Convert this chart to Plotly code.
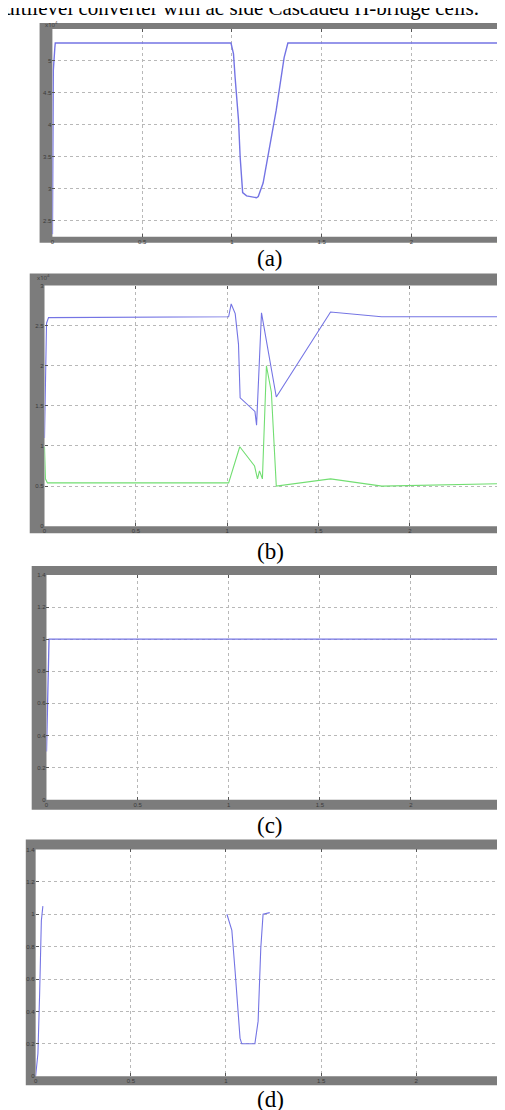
import plotly.graph_objects as go

W, H = 505, 1110

# ---------------- data ----------------
x_ticks = [0, 0.5, 1, 1.5, 2, 2.5]
x_tick_labels = ["0", "0.5", "1", "1.5", "2", "2.5"]

# (a)
a_t = [0, 0.003, 0.005, 0.014, 0.016, 0.995, 1.009, 1.018, 1.037, 1.046, 1.060,
       1.082, 1.137, 1.147, 1.174, 1.247, 1.291, 1.312, 2.5]
a_v = [2.29, 3.45, 4.85, 5.22, 5.28, 5.28, 5.11, 4.74, 4.07, 3.50, 2.94,
       2.89, 2.86, 2.88, 3.09, 4.23, 5.05, 5.28, 5.28]
a_yticks = [2.5, 3, 3.5, 4, 4.5, 5, 5.5]
a_ylabels = ["2.5", "3", "3.5", "4", "4.5", "5", ""]

# (b)
b_t = [0, 0.005, 0.011, 0.022, 1.008, 1.022, 1.044, 1.062, 1.065, 1.066, 1.071,
       1.152, 1.161, 1.188, 1.269, 1.566, 1.845, 2.516]
b_blue = [1.10, 2.04, 2.53, 2.60, 2.61, 2.77, 2.65, 2.27, 2.10, 1.84, 1.60,
          1.43, 1.26, 2.66, 1.61, 2.67, 2.61, 2.61]
b_tg = [0, 0.005, 0.016, 1.008, 1.069, 1.150, 1.166, 1.177, 1.193, 1.215, 1.242,
        1.269, 1.566, 1.847, 2.516]
b_green = [0.99, 0.59, 0.54, 0.54, 0.99, 0.75, 0.59, 0.69, 0.59, 2.00, 1.67,
           0.50, 0.59, 0.50, 0.53]
b_yticks = [0, 0.5, 1, 1.5, 2, 2.5, 3]
b_ylabels = ["0", "0.5", "1", "1.5", "2", "2.5", "3"]

# (c)
c_t = [0, 0.005, 0.011, 0.014, 2.5]
c_v = [0.30, 0.58, 0.81, 1.0, 1.0]
c_yticks = [0, 0.2, 0.4, 0.6, 0.8, 1.0, 1.2, 1.4]
c_ylabels = ["0", "0.2", "0.4", "0.6", "0.8", "1", "1.2", "1.4"]

# (d)
d_t = [0, 0.012, 0.021, 0.030, 0.038, None, 1.005, 1.031, 1.048, 1.074, 1.083,
       1.152, 1.169, 1.183, 1.195, 1.221, 1.230]
d_v = [0, 0.14, 0.51, 0.96, 1.05, None, 1.00, 0.90, 0.65, 0.235, 0.20,
       0.20, 0.34, 0.79, 1.00, 1.01, 1.01]
d_yticks = c_yticks
d_ylabels = c_ylabels

caption = "multilevel converter with ac side Cascaded H-bridge cells."
panel_labels = ["(a)", "(b)", "(c)", "(d)"]

# ---------------- layout helpers ----------------
def px(x):
    return x / W

def py(y):
    return 1 - y / H

BLUE = "#7474e4"
GREEN = "#72de72"
GRAY = "#7c7c7c"
GRID = "#b8b8b8"

panels = [
    dict(frame=(30, 12, 502, 233), plot=(43, 18, 498, 227), xr=[0, 2.5], yr=[2.25, 5.5],
         yt=a_yticks, yl=a_ylabels),
    dict(frame=(20, 264, 505, 525), plot=(35, 276, 501, 518), xr=[0, 2.516], yr=[0, 3],
         yt=b_yticks, yl=b_ylabels),
    dict(frame=(22, 558, 505, 803), plot=(37, 567, 499, 793), xr=[0, 2.5], yr=[0, 1.4],
         yt=c_yticks, yl=c_ylabels),
    dict(frame=(16, 833, 505, 1080), plot=(26, 843, 505, 1071), xr=[0, 2.482], yr=[0, 1.4],
         yt=d_yticks, yl=d_ylabels),
]
label_y = [249, 543, 819, 1094]

fig = go.Figure()

fig.add_trace(go.Scatter(x=a_t, y=a_v, mode="lines", line=dict(color=BLUE, width=1.4),
                         xaxis="x", yaxis="y", showlegend=False))
fig.add_trace(go.Scatter(x=b_t, y=b_blue, mode="lines", line=dict(color=BLUE, width=1.1),
                         xaxis="x2", yaxis="y2", showlegend=False))
fig.add_trace(go.Scatter(x=b_tg, y=b_green, mode="lines", line=dict(color=GREEN, width=1.1),
                         xaxis="x2", yaxis="y2", showlegend=False))
fig.add_trace(go.Scatter(x=c_t, y=c_v, mode="lines", line=dict(color=BLUE, width=1.3),
                         xaxis="x3", yaxis="y3", showlegend=False))
fig.add_trace(go.Scatter(x=d_t, y=d_v, mode="lines", line=dict(color=BLUE, width=1.1),
                         xaxis="x4", yaxis="y4", showlegend=False, connectgaps=False))

shapes = []
annotations = []
layout_axes = {}
for i, p in enumerate(panels):
    fx0, fy0, fx1, fy1 = p["frame"]
    qx0, qy0, qx1, qy1 = p["plot"]
    shapes.append(dict(type="rect", xref="paper", yref="paper", layer="below",
                       x0=px(fx0), x1=px(fx1), y0=py(fy1), y1=py(fy0),
                       fillcolor=GRAY, line=dict(width=0)))
    shapes.append(dict(type="rect", xref="paper", yref="paper", layer="below",
                       x0=px(qx0), x1=px(qx1), y0=py(qy1), y1=py(qy0),
                       fillcolor="white", line=dict(width=0)))
    sfx = "" if i == 0 else str(i + 1)
    layout_axes["xaxis" + sfx] = dict(
        domain=[px(qx0), px(qx1)], range=p["xr"], anchor="y" + sfx,
        tickvals=x_ticks, ticktext=x_tick_labels,
        showgrid=True, gridcolor=GRID, griddash="dot", gridwidth=1,
        zeroline=False, showline=False, ticks="inside", ticklen=3,
        tickcolor="#555", mirror="ticks",
        tickfont=dict(size=6, color="#3a3a3a", family="Liberation Sans"),
    )
    layout_axes["yaxis" + sfx] = dict(
        domain=[py(qy1), py(qy0)], range=p["yr"], anchor="x" + sfx,
        tickvals=p["yt"], ticktext=p["yl"],
        showgrid=True, gridcolor=GRID, griddash="dot", gridwidth=1,
        zeroline=False, showline=False, ticks="inside", ticklen=3,
        tickcolor="#555", mirror="ticks",
        tickfont=dict(size=6, color="#3a3a3a", family="Liberation Sans"),
    )
    annotations.append(dict(text=panel_labels[i], xref="paper", yref="paper",
                            x=px(264), y=py(label_y[i]), xanchor="center", yanchor="middle",
                            showarrow=False,
                            font=dict(family="Liberation Serif", size=23, color="black")))

# exponent labels
annotations.append(dict(text="x10<sup>4</sup>", xref="paper", yref="paper",
                        x=px(33), y=py(14), xanchor="left", yanchor="middle",
                        showarrow=False, font=dict(size=6, color="#3a3a3a")))
annotations.append(dict(text="x10<sup>4</sup>", xref="paper", yref="paper",
                        x=px(25), y=py(268), xanchor="left", yanchor="middle",
                        showarrow=False, font=dict(size=6, color="#3a3a3a")))

# caption (cut off at the top edge, as in the reference)
annotations.append(dict(text=caption, xref="paper", yref="paper",
                        x=px(478), y=py(11), xanchor="right", yanchor="bottom",
                        showarrow=False,
                        font=dict(family="Liberation Serif", size=21, color="black")))

fig.update_layout(
    width=W, height=H,
    margin=dict(l=0, r=0, t=0, b=0),
    paper_bgcolor="white", plot_bgcolor="rgba(0,0,0,0)",
    shapes=shapes, annotations=annotations,
    showlegend=False,
    **layout_axes,
)

fig.write_html("out.html")
